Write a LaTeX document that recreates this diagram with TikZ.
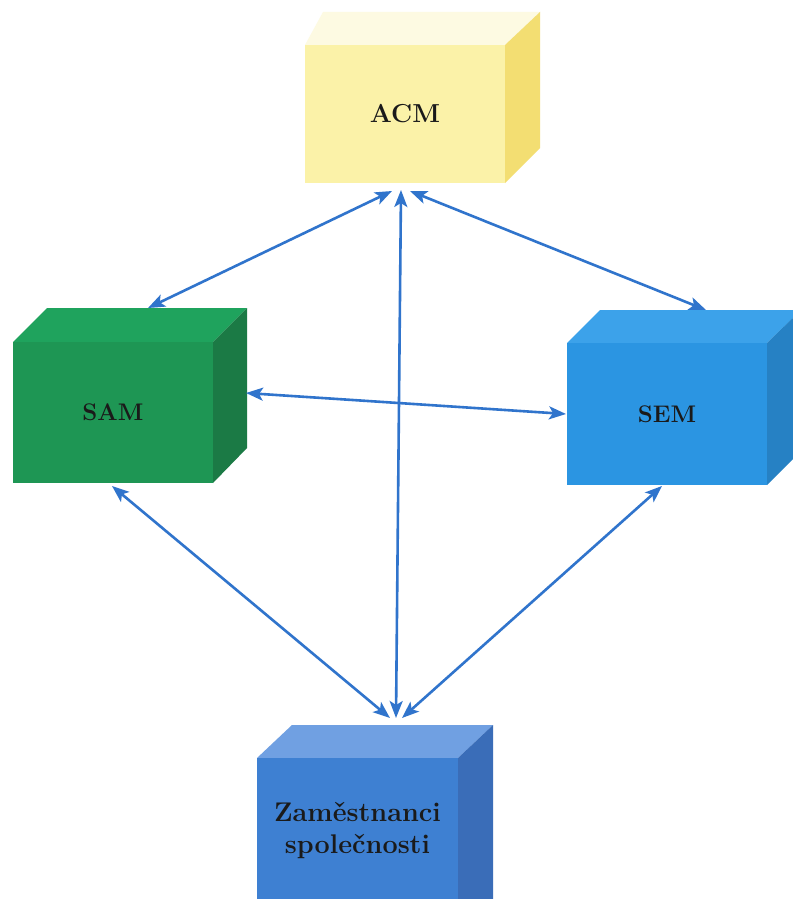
\documentclass[tikz,border=0pt]{standalone}
\usepackage{fontspec}
\usetikzlibrary{arrows.meta}
\definecolor{acmF}{HTML}{FBF2A8}
\definecolor{acmT}{HTML}{FDFAE2}
\definecolor{acmS}{HTML}{F3DE72}
\definecolor{samF}{HTML}{1E9654}
\definecolor{samT}{HTML}{1FA35D}
\definecolor{samS}{HTML}{1B7A45}
\definecolor{semF}{HTML}{2B95E2}
\definecolor{semT}{HTML}{3CA2EA}
\definecolor{semS}{HTML}{2681C4}
\definecolor{zamF}{HTML}{3E80D2}
\definecolor{zamT}{HTML}{70A0E2}
\definecolor{zamS}{HTML}{3A6DB8}
\definecolor{arr}{HTML}{3074CC}
\definecolor{txt}{HTML}{1A1A1A}
\begin{document}
\begin{tikzpicture}[x=1pt,y=-1pt,
  front/.style={inner sep=0pt, minimum width=200pt, text=txt,
    font=\bfseries\fontsize{24}{32}\selectfont, align=center},
  tipstyle/.style={},
  link/.style={draw=arr, line width=2.6pt,
    {Stealth[length=17pt,width=13pt,inset=4pt]}-{Stealth[length=17pt,width=13pt,inset=4pt]}}]
\useasboundingbox (0,0) rectangle (792,899);
\fill[white] (0,0) rectangle (792,899);
% ACM
\fill[acmT] (305,45) -- (323,12) -- (540,12) -- (505,45) -- cycle;
\fill[acmS] (505,45) -- (540,12) -- (540,148) -- (505,183) -- cycle;
\node[front, fill=acmF, minimum height=138pt, font=\bfseries\fontsize{26}{30}\selectfont] (acm) at (405,114) {ACM};
% SAM
\fill[samT] (13,342) -- (47,308) -- (247,308) -- (213,342) -- cycle;
\fill[samS] (213,342) -- (247,308) -- (247,448) -- (213,483) -- cycle;
\node[front, fill=samF, minimum height=141pt] (sam) at (113,412.5) {SAM};
% SEM
\fill[semT] (567,343) -- (600,310) -- (801,310) -- (767,343) -- cycle;
\fill[semS] (767,343) -- (801,310) -- (801,451) -- (767,485) -- cycle;
\node[front, fill=semF, minimum height=142pt] (sem) at (667,414) {SEM};
% Zamestnanci
\fill[zamT] (257,758) -- (292,725) -- (493,725) -- (458,758) -- cycle;
\fill[zamS] (458,758) -- (493,725) -- (493,899) -- (458,899) -- cycle;
\node[front, fill=zamF, minimum width=201pt, minimum height=146pt, font=\bfseries\fontsize{27}{32}\selectfont] (zam) at (357.5,831) {Zaměstnanci\\společnosti};
% endpoints
\coordinate (acmL) at (392,191);
\coordinate (acmC) at (401,190);
\coordinate (acmR) at (410,191);
\coordinate (samT1) at (148,308);
\coordinate (samR) at (246,393);
\coordinate (samB) at (112,486);
\coordinate (semT1) at (706,310);
\coordinate (semL) at (566,414);
\coordinate (semB) at (662,486);
\coordinate (zamL) at (390,718);
\coordinate (zamC) at (396,718);
\coordinate (zamR) at (402,718);
% connectors
\draw[link] (acmL) -- (samT1);
\draw[link] (acmR) -- (semT1);
\draw[link] (acmC) -- (zamC);
\draw[link] (samR) -- (semL);
\draw[link] (samB) -- (zamL);
\draw[link] (semB) -- (zamR);
\end{tikzpicture}
\end{document}
